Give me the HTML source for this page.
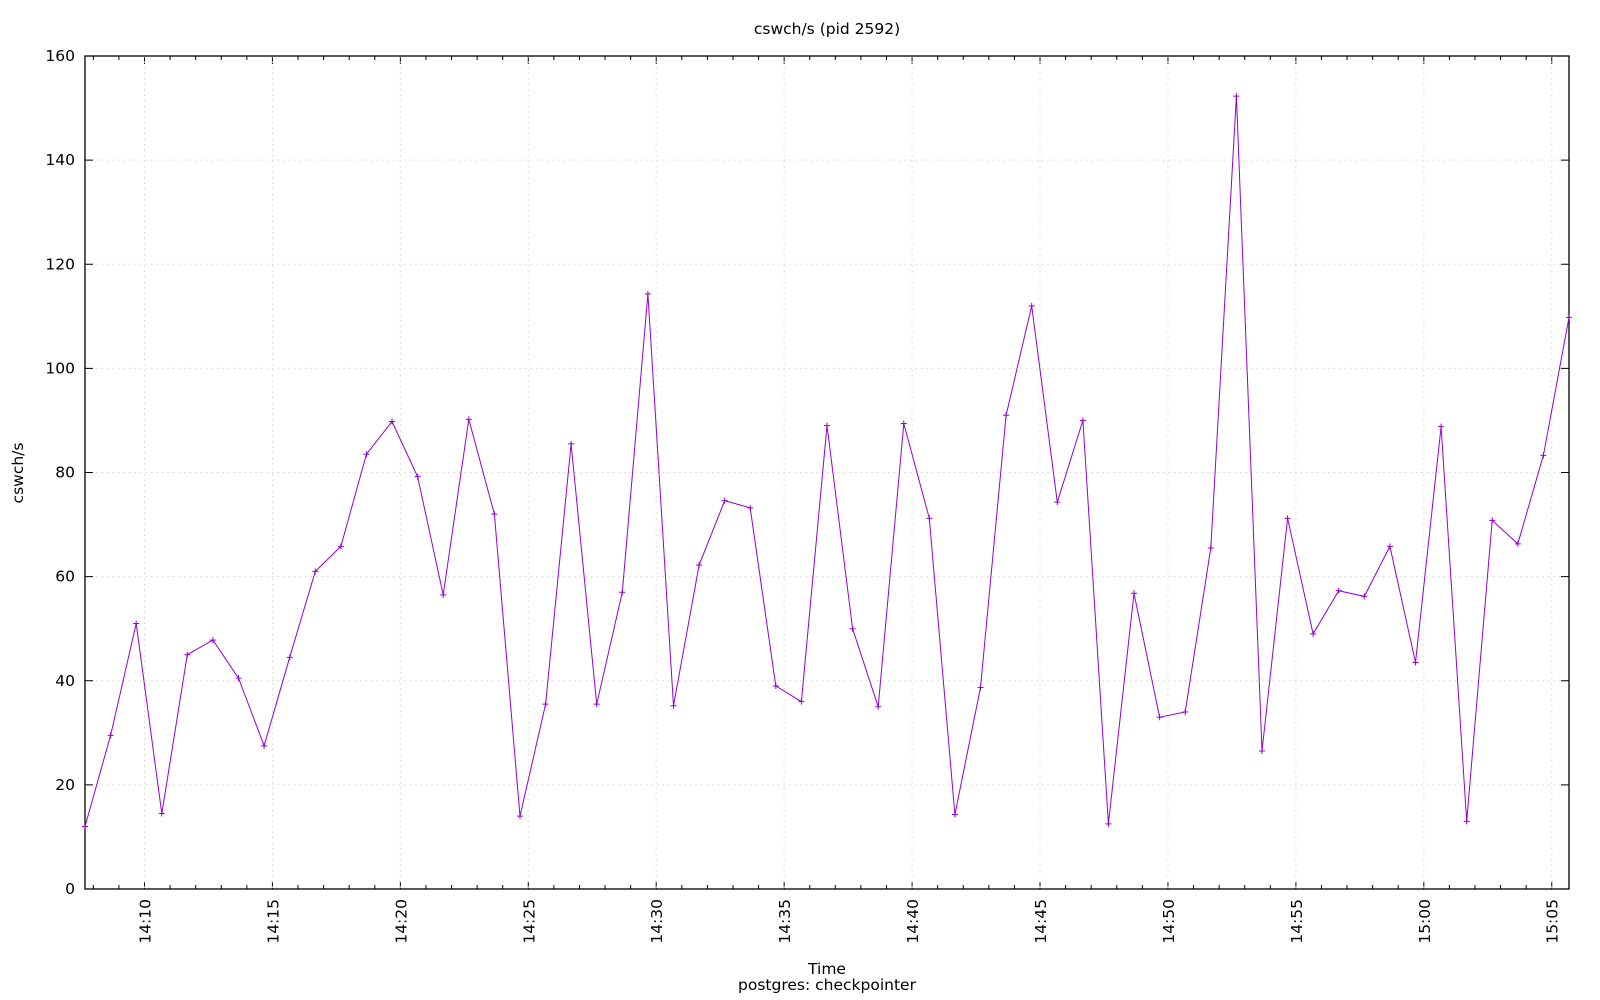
<!DOCTYPE html>
<html><head><meta charset="utf-8"><style>
html,body{margin:0;padding:0;background:#fff;}
svg{display:block;font-family:"DejaVu Sans","Liberation Sans",sans-serif;}
</style></head><body>
<svg id="s" width="1600" height="1000" xmlns="http://www.w3.org/2000/svg"></svg>
<script>
const s=document.getElementById('s');
const L=85,R=1569,T=56,B=889;
const vals=[12,29.5,51,14.5,45,47.8,40.5,27.5,44.5,61,65.8,83.5,89.8,79.2,56.5,90.2,72,14,35.5,85.5,35.5,57,114.3,35.2,62.2,74.6,73.2,39,36,89,50,35,89.4,71.2,14.3,38.7,91,112,74.3,90,12.5,56.8,33,34,65.5,152.3,26.5,71.2,49,57.3,56.2,65.8,43.5,88.8,13,70.8,66.3,83.3,109.8];
const dx=(R-L)/58, ky=(B-T)/160;
let h='';
const Y=v=>B-v*ky;
const FS=15.5;
for(let v=0;v<=160;v+=20){const y=Y(v);
 if(v>0&&v<160)h+=`<line x1="${L}" x2="${R}" y1="${y}" y2="${y}" stroke="#d4d4d4" stroke-dasharray="1.5,4"/>`;
 h+=`<line x1="${L}" x2="${L+8}" y1="${y}" y2="${y}" stroke="#000"/><line x1="${R-8}" x2="${R}" y1="${y}" y2="${y}" stroke="#000"/>`;
 h+=`<text x="${L-10}" y="${y+5}" font-size="${FS}" text-anchor="end">${v}</text>`;}
const m10=144.5, pm=dx;
const labels=['14:10','14:15','14:20','14:25','14:30','14:35','14:40','14:45','14:50','14:55','15:00','15:05'];
for(let k=-2;k<=55;k++){const x=m10+k*pm; if(x<L-0.5||x>R+0.5)continue;
 const major=(k%5===0);const len=major?8:4;
 h+=`<line x1="${x}" x2="${x}" y1="${B}" y2="${B-len}" stroke="#000"/><line x1="${x}" x2="${x}" y1="${T}" y2="${T+len}" stroke="#000"/>`;
 if(major){h+=`<line x1="${x}" x2="${x}" y1="${T}" y2="${B}" stroke="#d4d4d4" stroke-dasharray="1.5,4"/>`;
  const lab=labels[k/5];
  h+=`<text transform="translate(${x+6},${B+10}) rotate(-90)" font-size="${FS}" text-anchor="end">${lab}</text>`;}
}
h+=`<rect x="${L}" y="${T}" width="${R-L}" height="${B-T}" fill="none" stroke="#000" stroke-width="1.3"/>`;
let pts=vals.map((v,i)=>`${(L+i*dx).toFixed(1)},${Y(v).toFixed(1)}`).join(' ');
h+=`<polyline points="${pts}" fill="none" stroke="#9400d3" stroke-width="1"/>`;
vals.forEach((v,i)=>{const x=L+i*dx,y=Y(v);h+=`<path d="M${x-3} ${y}H${x+3}M${x} ${y-3}V${y+3}" stroke="#9400d3"/>`;});
h+=`<text x="827" y="34" font-size="${FS}" text-anchor="middle">cswch/s (pid 2592)</text>`;
h+=`<text x="827" y="974" font-size="${FS}" text-anchor="middle">Time</text>`;
h+=`<text x="827" y="990" font-size="${FS}" text-anchor="middle">postgres: checkpointer</text>`;
h+=`<text transform="translate(23,473) rotate(-90)" font-size="${FS}" text-anchor="middle">cswch/s</text>`;
s.innerHTML=h;
</script>
</body></html>
